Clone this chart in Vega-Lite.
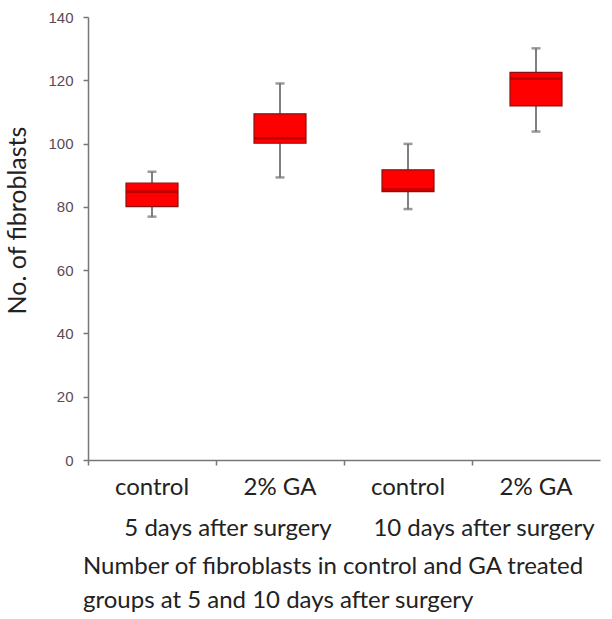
{
  "$schema": "https://vega.github.io/schema/vega-lite/v6.json",
  "autosize": "none",
  "width": 512,
  "height": 443,
  "padding": {"left": 88, "top": 17, "right": 12, "bottom": 159},
  "background": "white",
  "config": {"view": {"stroke": null}},
  "title": {
    "text": ["Number of fibroblasts in control and GA treated", "groups at 5 and 10 days after surgery"],
    "orient": "bottom",
    "anchor": "start",
    "frame": "group",
    "font": "Lato",
    "fontSize": 24,
    "fontWeight": "normal",
    "color": "#222",
    "lineHeight": 34,
    "offset": 15,
    "dx": -5
  },
  "data": {
    "values": [
      {"id": "c5", "group": "5 days after surgery", "lo": 76.9, "q1": 80.1, "med": 84.8, "q3": 87.5, "hi": 91.1},
      {"id": "g5", "group": "5 days after surgery", "lo": 89.3, "q1": 100.1, "med": 101.7, "q3": 109.4, "hi": 119.0},
      {"id": "c10", "group": "10 days after surgery", "lo": 79.3, "q1": 84.8, "med": 85.5, "q3": 91.7, "hi": 99.9},
      {"id": "g10", "group": "10 days after surgery", "lo": 103.8, "q1": 111.9, "med": 120.6, "q3": 122.5, "hi": 130.1}
    ]
  },
  "resolve": {"scale": {"x": "independent"}, "axis": {"x": "independent"}},
  "layer": [
    {
      "encoding": {
        "x": {
          "field": "id", "type": "nominal", "sort": ["c5", "g5", "c10", "g10"],
          "scale": {"paddingInner": 0, "paddingOuter": 0},
          "axis": {
            "title": null,
            "labelAngle": 0,
            "bandPosition": 0,
            "labelLimit": 300,
            "labelExpr": "indexof(datum.value, 'c') == 0 ? 'control' : '2% GA'",
            "labelFont": "Lato", "labelFontSize": 24, "labelColor": "#222",
            "labelPadding": 10,
            "domainColor": "#777", "domainWidth": 1.5,
            "tickColor": "#777", "tickSize": 5, "tickWidth": 1.5,
            "grid": false
          }
        }
      },
      "layer": [
        {
          "mark": {"type": "rule", "color": "#808080", "strokeWidth": 2},
          "encoding": {
            "y": {
              "field": "lo", "type": "quantitative",
              "scale": {"domain": [0, 140], "nice": false},
              "axis": {
                "title": "No. of fibroblasts",
                "titleFont": "Lato", "titleFontSize": 25, "titleFontWeight": "normal", "titleColor": "#222",
                "titleY": 203,
                "titleX": -58,
                "values": [0, 20, 40, 60, 80, 100, 120, 140],
                "labelFont": "Liberation Sans", "labelFontSize": 15, "labelColor": "#5a4a55",
                "labelPadding": 10,
                "domainColor": "#777", "domainWidth": 1.5,
                "tickColor": "#777", "tickSize": 5, "tickWidth": 1.5,
                "grid": false
              }
            },
            "y2": {"field": "hi"}
          }
        },
        {
          "mark": {"type": "tick", "color": "#707070", "thickness": 2.5, "size": 9},
          "encoding": {"y": {"field": "hi", "type": "quantitative"}}
        },
        {
          "mark": {"type": "tick", "color": "#707070", "thickness": 2.5, "size": 9},
          "encoding": {"y": {"field": "lo", "type": "quantitative"}}
        },
        {
          "mark": {"type": "bar", "color": "#ff0000", "stroke": "#8a1010", "strokeWidth": 1.2, "width": 52},
          "encoding": {
            "y": {"field": "q1", "type": "quantitative"},
            "y2": {"field": "q3"}
          }
        },
        {
          "mark": {"type": "tick", "color": "#a00000", "thickness": 2.5, "size": 51},
          "encoding": {"y": {"field": "med", "type": "quantitative"}}
        }
      ]
    },
    {
      "mark": {"type": "rule", "opacity": 0},
      "encoding": {
        "x": {
          "field": "group", "type": "nominal", "sort": ["5 days after surgery", "10 days after surgery"],
          "scale": {"paddingInner": 0, "paddingOuter": 0},
          "axis": {
            "title": null,
            "orient": "bottom",
            "labelAngle": 0,
            "labelOffset": 12,
            "labelLimit": 300,
            "labelFont": "Lato", "labelFontSize": 24, "labelColor": "#222",
            "labelPadding": 56,
            "domain": false, "ticks": false, "grid": false
          }
        },
        "y": {"field": "med", "type": "quantitative"}
      }
    }
  ]
}
